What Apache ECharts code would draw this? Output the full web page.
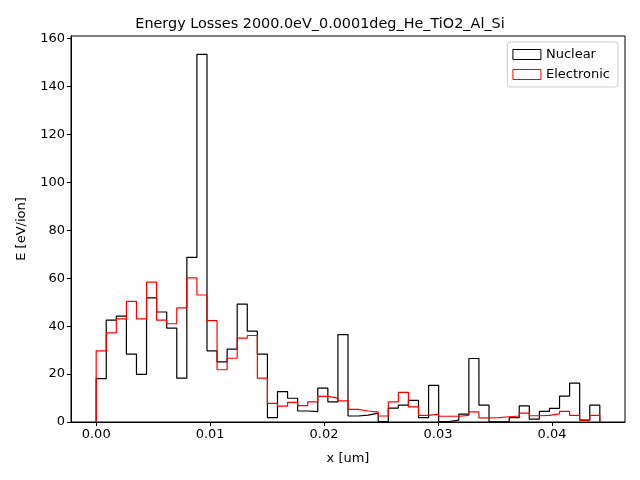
<!DOCTYPE html>
<html>
<head>
<meta charset="utf-8">
<script src="https://cdn.jsdelivr.net/npm/echarts@6/dist/echarts.min.js"></script>
<style>
  html, body { margin: 0; padding: 0; background: #fff; }
  #main { width: 640px; height: 480px; }
</style>
</head>
<body>
<div id="main"></div>
<script>
// histogram bins: 50 equal bins from xStart to xEnd (um)
var xStart = 0.0;
var xEnd = 0.0442;
var nuclear = [18.1, 42.5, 44.2, 28.3, 19.9, 51.8, 45.9, 39.2, 18.3, 68.7,
  153.4, 29.7, 25.1, 30.4, 49.2, 37.9, 28.3, 1.8, 12.7, 9.9,
  4.6, 4.3, 14.1, 8.4, 36.5, 2.5, 2.9, 3.7, 0.2, 5.8,
  7.0, 9.0, 1.8, 15.3, 0.2, 0.8, 3.3, 26.5, 7.0, 0.1,
  0.2, 1.8, 6.7, 1.2, 4.4, 5.7, 10.8, 16.2, 0.8, 7.0];
var electronic = [29.7, 37.2, 43.0, 50.3, 43.0, 58.4, 42.5, 41.0, 47.6, 60.1,
  53.0, 42.3, 21.8, 26.6, 35.0, 36.1, 18.3, 7.8, 6.6, 8.2,
  6.8, 8.4, 10.7, 10.0, 8.8, 5.3, 4.6, 4.1, 2.5, 8.4,
  12.4, 6.3, 2.8, 3.3, 2.4, 2.4, 2.8, 4.2, 1.7, 1.8,
  2.2, 2.5, 3.7, 2.6, 2.8, 3.4, 4.4, 2.8, 0.8, 2.8];
var xTicks = [0, 0.01, 0.02, 0.03, 0.04];

var font = 'DejaVu Sans';

// outline of a step histogram
function stepData(vals) {
  var w = (xEnd - xStart) / vals.length;
  var pts = [[xStart, 0]];
  for (var i = 0; i < vals.length; i++) {
    pts.push([xStart + i * w, vals[i]]);
  }
  pts.push([xEnd, 0]);
  return pts;
}

var pad = (xEnd - xStart) * 0.05;
var yMax = Math.max.apply(null, nuclear.concat(electronic)) * 1.05;

var myChart = echarts.init(document.getElementById('main'));
var option = {
  animation: false,
  backgroundColor: '#fff',
  textStyle: { fontFamily: font },
  title: {
    text: 'Energy Losses 2000.0eV_0.0001deg_He_TiO2_Al_Si',
    left: 'center',
    top: 12,
    textStyle: { fontFamily: font, fontSize: 14.4, fontWeight: 'normal', color: '#000' }
  },
  legend: {
    orient: 'vertical',
    right: 22,
    top: 42,
    padding: [6, 8, 6, 5],
    itemGap: 7,
    itemWidth: 28,
    itemHeight: 10,
    borderColor: '#cccccc',
    borderWidth: 1,
    borderRadius: 3,
    backgroundColor: 'rgba(255,255,255,0.8)',
    textStyle: { fontFamily: font, fontSize: 13, color: '#000' },
    data: [
      { name: 'Nuclear', icon: 'rect', itemStyle: { color: 'rgba(0,0,0,0)', borderColor: '#000', borderWidth: 1 } },
      { name: 'Electronic', icon: 'rect', itemStyle: { color: 'rgba(0,0,0,0)', borderColor: '#ff0000', borderWidth: 1 } }
    ]
  },
  grid: {
    left: 71, right: 15, top: 36, bottom: 58,
    show: true, borderColor: '#000', borderWidth: 1
  },
  xAxis: {
    type: 'value',
    min: xStart - pad,
    max: xEnd + pad,
    name: 'x [um]',
    nameLocation: 'middle',
    nameGap: 30,
    nameTextStyle: { fontFamily: font, fontSize: 13, color: '#000' },
    splitLine: { show: false },
    axisLine: { show: true, onZero: false, lineStyle: { color: '#000' } },
    axisTick: { show: true, length: 4, lineStyle: { color: '#000' }, customValues: xTicks },
    axisLabel: {
      color: '#000', fontFamily: font, fontSize: 13, margin: 6,
      customValues: xTicks,
      formatter: function (v) { return v.toFixed(2); }
    }
  },
  yAxis: {
    type: 'value',
    min: 0,
    max: yMax,
    interval: 20,
    name: 'E [eV/ion]',
    nameLocation: 'middle',
    nameGap: 43,
    nameTextStyle: { fontFamily: font, fontSize: 13, color: '#000' },
    splitLine: { show: false },
    axisLine: { show: true, onZero: false, lineStyle: { color: '#000' } },
    axisTick: { show: true, length: 4, lineStyle: { color: '#000' } },
    axisLabel: { color: '#000', fontFamily: font, fontSize: 13, margin: 6, showMaxLabel: false }
  },
  series: [
    {
      name: 'Nuclear',
      type: 'line',
      step: 'end',
      showSymbol: false,
      data: stepData(nuclear),
      lineStyle: { color: '#000', width: 1.2 },
      itemStyle: { color: '#000' }
    },
    {
      name: 'Electronic',
      type: 'line',
      step: 'end',
      showSymbol: false,
      data: stepData(electronic),
      lineStyle: { color: '#ff0000', width: 1.2 },
      itemStyle: { color: '#ff0000' }
    }
  ]
};
myChart.setOption(option);
</script>
</body>
</html>
